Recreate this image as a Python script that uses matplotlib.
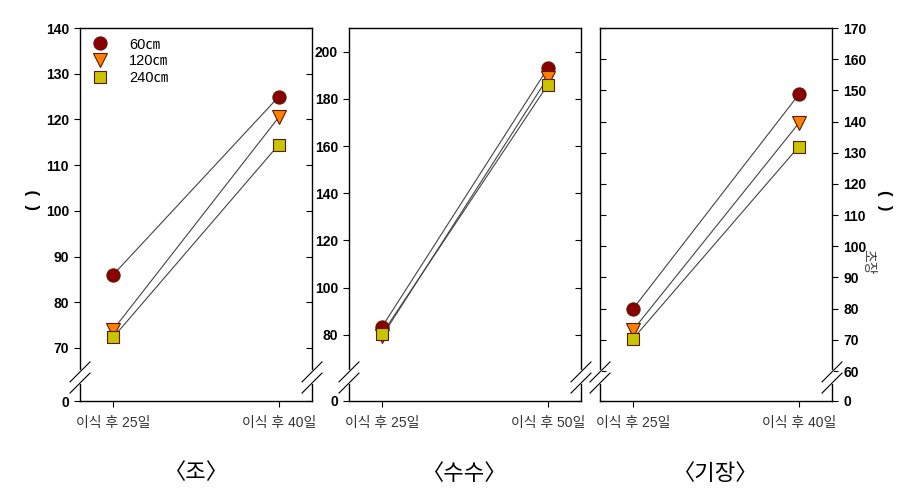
import matplotlib
matplotlib.use("Agg")
import matplotlib.pyplot as plt

plt.rcParams['font.family'] = ['Liberation Sans', 'Noto Sans CJK KR', 'DejaVu Sans']

# data
days = [["이식 후 25일", "이식 후 40일"],
        ["이식 후 25일", "이식 후 50일"],
        ["이식 후 25일", "이식 후 40일"]]
crops = ["〈조〉", "〈수수〉", "〈기장〉"]
spacing = ["60㎝", "120㎝", "240㎝"]

jo_60 = [86, 125]
jo_120 = [74, 120.5]
jo_240 = [72.3, 114.5]

susu_60 = [83.5, 193]
susu_120 = [79.5, 189]
susu_240 = [80.5, 186]

gijang_60 = [80, 148.7]
gijang_120 = [73.2, 139.5]
gijang_240 = [70.4, 132]

values = [[jo_60, jo_120, jo_240],
          [susu_60, susu_120, susu_240],
          [gijang_60, gijang_120, gijang_240]]

yticks = [[70, 80, 90, 100, 110, 120, 130, 140],
          [80, 100, 120, 140, 160, 180, 200],
          [60, 70, 80, 90, 100, 110, 120, 130, 140, 150, 160, 170]]
ylims = [(58.4, 140), (52, 210), (50.4, 170)]

markers = ["o", "v", "s"]
mcolors = ["#8B0000", "#FF8000", "#C8C400"]
msizes = [9.5, 9.5, 8]

fig = plt.figure(figsize=(9.05, 4.95), dpi=100)
lefts = [80, 349, 600]
W, H = 905, 495

for i in range(3):
    ax = fig.add_axes([lefts[i] / W, 94 / H, 232 / W, 373 / H])
    x = [0, 1]
    for j in range(3):
        ax.plot(x, values[i][j], color="#444444", lw=0.8, zorder=2)
    for j in range(3):
        ax.plot(x, values[i][j], linestyle="none", marker=markers[j],
                ms=msizes[j], mfc=mcolors[j], mec="#5a1a00", mew=0.8,
                label=spacing[j], zorder=3)
    ax.set_xlim(-0.2, 1.2)
    lo, hi = ylims[i]
    ax.set_ylim(lo, hi)
    ax.set_yticks([lo] + yticks[i])
    ax.set_yticklabels(["0"] + [str(t) for t in yticks[i]],
                       fontsize=10, fontweight="bold")
    ax.set_xticks(x)
    ax.set_xticklabels(days[i], fontsize=10, color="#333333")
    ax.tick_params(axis="x", direction="out", length=4, top=False, pad=7)
    if i < 2:
        ax.tick_params(axis="y", which="both", left=True, right=True,
                       direction="out", length=4, pad=4)
        # right ticks inward
        for t in ax.yaxis.get_major_ticks():
            t.tick2line.set_marker(matplotlib.lines.TICKLEFT)
    else:
        ax.yaxis.tick_right()
        ax.tick_params(axis="y", left=True, right=True, direction="out",
                       length=4, pad=4)
        for t in ax.yaxis.get_major_ticks():
            t.tick1line.set_marker(matplotlib.lines.TICKRIGHT)
    for s in ax.spines.values():
        s.set_linewidth(1.0)

    # axis breaks on both sides
    dx, dy = 20 / 232 / 2, 20 / 373 / 2
    for xs in (0, 1):
        ax.plot([xs, xs], [0.050, 0.077], transform=ax.transAxes,
                color="white", lw=3, clip_on=False, zorder=5)
        for yb in (0.048, 0.078):
            ax.plot([xs - dx, xs + dx], [yb - dy, yb + dy],
                    transform=ax.transAxes, color="black", lw=0.8,
                    clip_on=False, zorder=6)

    if i == 0:
        ax.legend(loc="upper left", frameon=False, fontsize=10.5,
                  handletextpad=1.0, labelspacing=0.2,
                  bbox_to_anchor=(-0.035, 1.01))

    fig.text((lefts[i] + 116) / W, 1 - 473 / H, crops[i],
             ha="center", va="center", fontsize=16,
             family=["Noto Sans CJK KR"], fontweight="light")

# axis titles
fig.text(33 / W, 1 - 200 / H, "(  )", rotation=90, ha="center",
         va="center", fontsize=12, fontweight="bold")
fig.text(884 / W, 1 - 200 / H, "(  )", rotation=270, ha="center",
         va="center", fontsize=12, fontweight="bold")
fig.text(868 / W, 1 - 262 / H, "초장", rotation=270, ha="center",
         va="center", fontsize=10, color="#444444",
         family=["Noto Sans CJK KR"])

fig.savefig("out.png", dpi=100)
